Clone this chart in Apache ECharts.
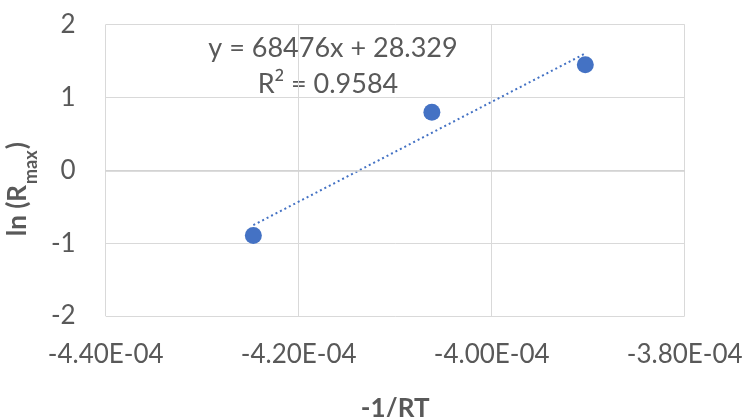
<!DOCTYPE html>
<html>
<head>
<meta charset="utf-8">
<script src="https://cdn.jsdelivr.net/npm/echarts@6/dist/echarts.min.js"></script>
<style>
  html, body { margin: 0; padding: 0; background: #ffffff; }
  #chart { width: 747px; height: 417px; }
</style>
</head>
<body>
<div id="chart"></div>
<script>
// Measured points: -1/RT against ln(Rmax)
const invRT = [-4.247e-4, -4.062e-4, -3.903e-4];
const lnRmax = [-0.895, 0.795, 1.448];

// Linear fit reported for the points
const fitSlope = 68476;
const fitIntercept = 28.329;
const fitR2 = 0.9584;

const FONT = 'Lato';
const TEXT = '#595959';
const GRID = '#d9d9d9';
const BLUE = '#4472C4';

// "-4.40E-04" style tick labels
function sci(v) {
  if (Math.abs(v) < 1e-12) return '0.00E+00';
  const s = v.toExponential(2).toUpperCase();
  const m = s.match(/^(-?[\d.]+)E([+-])(\d+)$/);
  const exp = m[3].length < 2 ? '0' + m[3] : m[3];
  return m[1] + 'E' + m[2] + exp;
}

const points = invRT.map((x, i) => [x, lnRmax[i]]);
const xLo = Math.min(...invRT);
const xHi = Math.max(...invRT);
const trend = [xLo, xHi].map(x => [x, fitSlope * x + fitIntercept]);

const chart = echarts.init(document.getElementById('chart'));
chart.setOption({
  animation: false,
  backgroundColor: '#ffffff',
  grid: {
    left: 105.7, right: 62.3, top: 24.5, bottom: 101,
    containLabel: false,
    outerBoundsMode: 'none'
  },
  xAxis: {
    type: 'value',
    min: -4.4e-4,
    max: -3.8e-4,
    interval: 2e-5,
    axisLine: { show: false },
    axisTick: { show: false },
    splitLine: { show: true, lineStyle: { color: GRID, width: 1 } },
    axisLabel: {
      formatter: sci,
      color: TEXT,
      fontFamily: FONT,
      fontSize: 26,
      margin: 26
    },
    name: '-1/RT',
    nameLocation: 'middle',
    nameGap: 80,
    nameTextStyle: { color: TEXT, fontFamily: FONT, fontSize: 26, fontWeight: 'bold' }
  },
  yAxis: {
    type: 'value',
    min: -2,
    max: 2,
    interval: 1,
    axisLine: { show: false },
    axisTick: { show: false },
    splitLine: { show: true, lineStyle: { color: GRID, width: 1 } },
    axisLabel: {
      color: TEXT,
      fontFamily: FONT,
      fontSize: 26,
      margin: 30
    },
    name: '{b|ln (R}{sub|max}{b|)}',
    nameLocation: 'middle',
    nameRotate: 90,
    nameGap: 72,
    nameTextStyle: {
      color: TEXT,
      fontFamily: FONT,
      padding: [0, 38, 0, 0],
      rich: {
        b: { fontSize: 26, fontWeight: 'bold', color: TEXT, fontFamily: FONT, lineHeight: 34, verticalAlign: 'bottom' },
        sub: { fontSize: 18, fontWeight: 'bold', color: TEXT, fontFamily: FONT, lineHeight: 34, verticalAlign: 'bottom', padding: [0, 1, -9, 1] }
      }
    }
  },
  series: [
    {
      type: 'line',
      data: trend,
      showSymbol: false,
      silent: true,
      lineStyle: { color: BLUE, width: 2, type: [2, 3] },
      z: 2
    },
    {
      type: 'scatter',
      data: points,
      symbol: 'circle',
      symbolSize: 17,
      itemStyle: { color: BLUE, opacity: 1 },
      z: 3,
      markLine: {
        silent: true,
        symbol: 'none',
        label: { show: false },
        lineStyle: { color: '#d0d0d0', width: 1.5, type: 'solid' },
        data: [{ yAxis: 0 }]
      }
    }
  ],
  graphic: [
    {
      type: 'text',
      style: {
        text: 'y = ' + fitSlope + 'x + ' + fitIntercept,
        fill: TEXT, fontFamily: FONT, fontSize: 27,
        x: 333, y: 48, textAlign: 'center', textVerticalAlign: 'middle'
      }
    },
    {
      type: 'text',
      style: {
        text: '{a|R}{s|\u00B2}{a| = ' + fitR2 + '}',
        x: 328, y: 84, textAlign: 'center', textVerticalAlign: 'middle',
        rich: {
          a: { fill: TEXT, fontFamily: FONT, fontSize: 27, lineHeight: 32, verticalAlign: 'middle' },
          s: { fill: TEXT, fontFamily: 'Open Sans', fontSize: 27, lineHeight: 32, verticalAlign: 'middle' }
        }
      }
    }
  ]
});
</script>
</body>
</html>
